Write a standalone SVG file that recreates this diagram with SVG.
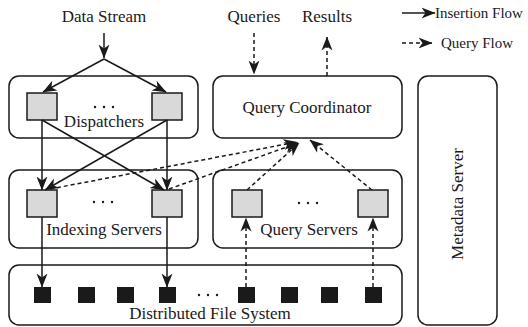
<svg xmlns="http://www.w3.org/2000/svg" width="528" height="327" viewBox="0 0 528 327" font-family="'Liberation Serif', 'Times New Roman', Times, serif">
<style>
.box{fill:#fff;stroke:#1a1a1a;stroke-width:1.5}
.sq{fill:#d9d9d9;stroke:#1a1a1a;stroke-width:1.5}
.blk{fill:#1a1a1a}
text{font-family:'Liberation Serif','Times New Roman',Times,serif}
.t{font-size:17px;fill:#1a1a1a;text-anchor:middle}
.lg{font-size:15px;fill:#1a1a1a}
.ln{fill:none;stroke:#1a1a1a;stroke-width:1.5;marker-end:url(#ah)}
.dl{fill:none;stroke:#1a1a1a;stroke-width:1.5;stroke-dasharray:4 3;marker-end:url(#ah)}
.dot{fill:#1a1a1a}
</style>
<defs>
<marker id="ah" markerUnits="userSpaceOnUse" viewBox="0 0 14 12" markerWidth="14" markerHeight="12" refX="13.5" refY="6" orient="auto">
<path d="M0,0.5 L14,6 L0,11.5 L4,6 z" fill="#1a1a1a"/>
</marker>
</defs>
<g id="labels">
<text class="t" x="104" y="22">Data Stream</text>
<text class="t" x="254" y="22">Queries</text>
<text class="t" x="327" y="22">Results</text>
</g>
<g id="legend">
<line class="ln" x1="402" y1="13" x2="435" y2="13"/>
<text class="lg" x="435" y="18">Insertion Flow</text>
<line class="dl" x1="402" y1="43" x2="432" y2="43"/>
<text class="lg" x="441" y="48">Query Flow</text>
</g>
<g id="dispatchers">
<rect class="box" x="9" y="76" width="189" height="62" rx="10"/>
<rect class="sq" x="27" y="93" width="30" height="27"/>
<rect class="sq" x="152" y="93" width="30" height="27"/>
<circle class="dot" cx="95" cy="107" r="1.2"/><circle class="dot" cx="104" cy="107" r="1.2"/><circle class="dot" cx="113" cy="107" r="1.2"/>
<text class="t" x="104" y="127">Dispatchers</text>
</g>
<g id="query-coordinator">
<rect class="box" x="213" y="76" width="189" height="62" rx="10"/>
<text class="t" x="307" y="113">Query Coordinator</text>
</g>
<g id="metadata-server">
<rect class="box" x="418" y="76" width="79" height="249" rx="10"/>
<text class="t" transform="translate(463,204) rotate(-90)">Metadata Server</text>
</g>
<g id="indexing-servers">
<rect class="box" x="9" y="170" width="189" height="78" rx="10"/>
<rect class="sq" x="27" y="190" width="30" height="27"/>
<rect class="sq" x="152" y="190" width="30" height="27"/>
<circle class="dot" cx="94" cy="202" r="1.2"/><circle class="dot" cx="103" cy="202" r="1.2"/><circle class="dot" cx="112" cy="202" r="1.2"/>
<text class="t" x="104" y="235">Indexing Servers</text>
</g>
<g id="query-servers">
<rect class="box" x="213" y="170" width="189" height="78" rx="10"/>
<rect class="sq" x="232" y="190" width="30" height="27"/>
<rect class="sq" x="358" y="190" width="30" height="27"/>
<circle class="dot" cx="299" cy="203" r="1.2"/><circle class="dot" cx="308" cy="203" r="1.2"/><circle class="dot" cx="317" cy="203" r="1.2"/>
<text class="t" x="309" y="235">Query Servers</text>
</g>
<g id="dfs">
<rect class="box" x="9" y="265" width="393" height="60" rx="10"/>
<rect class="blk" x="34" y="287" width="17" height="16"/>
<rect class="blk" x="78" y="287" width="17" height="16"/>
<rect class="blk" x="117" y="287" width="17" height="16"/>
<rect class="blk" x="159" y="287" width="17" height="16"/>
<rect class="blk" x="238" y="287" width="17" height="16"/>
<rect class="blk" x="281" y="287" width="17" height="16"/>
<rect class="blk" x="321" y="287" width="17" height="16"/>
<rect class="blk" x="365" y="287" width="17" height="16"/>
<circle class="dot" cx="199" cy="295" r="1.2"/><circle class="dot" cx="208" cy="295" r="1.2"/><circle class="dot" cx="217" cy="295" r="1.2"/>
<text class="t" x="210" y="319">Distributed File System</text>
</g>
<g id="connectors">
<line class="ln" x1="104" y1="33" x2="104" y2="58"/>
<line class="ln" x1="104" y1="59" x2="43" y2="92"/>
<line class="ln" x1="104" y1="59" x2="166" y2="92"/>
<line class="ln" x1="42" y1="120" x2="42" y2="190"/>
<line class="ln" x1="167" y1="120" x2="167" y2="190"/>
<line class="ln" x1="42" y1="120" x2="164" y2="190"/>
<line class="ln" x1="167" y1="120" x2="45" y2="190"/>
<line class="ln" x1="42" y1="217" x2="42" y2="287"/>
<line class="ln" x1="167" y1="217" x2="167" y2="287"/>
<line class="dl" x1="254" y1="33" x2="254" y2="74"/>
<line class="dl" x1="327" y1="76" x2="327" y2="37"/>
<line class="dl" x1="50" y1="189" x2="297" y2="142"/>
<line class="dl" x1="169" y1="189" x2="298" y2="143"/>
<line class="dl" x1="247" y1="190" x2="299" y2="143"/>
<line class="dl" x1="372" y1="190" x2="310" y2="140"/>
<line class="dl" x1="246" y1="287" x2="246" y2="218"/>
<line class="dl" x1="373" y1="287" x2="373" y2="218"/>
</g>
</svg>
